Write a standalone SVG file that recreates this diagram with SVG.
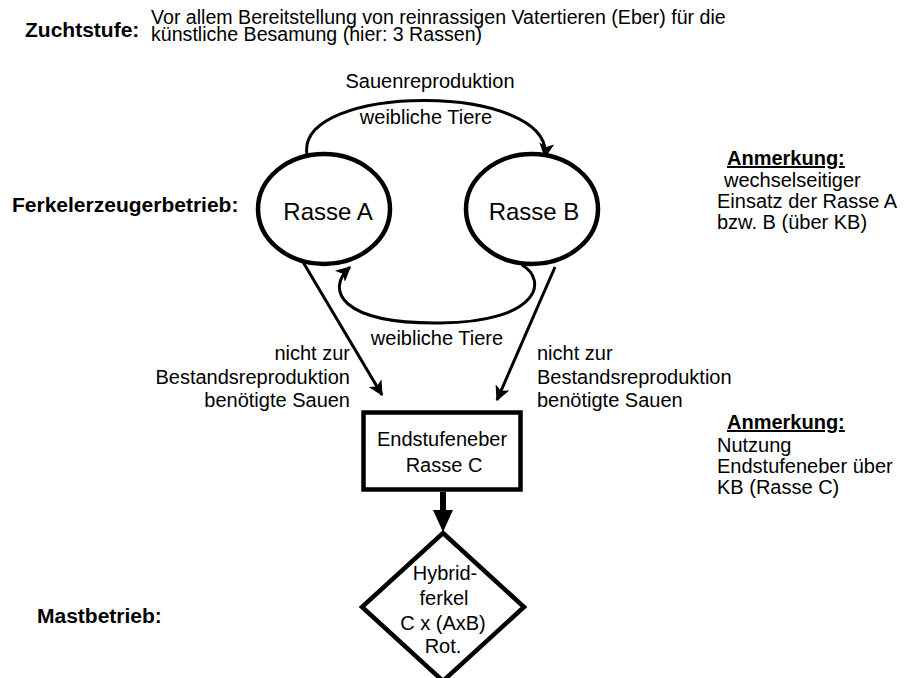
<svg xmlns="http://www.w3.org/2000/svg" width="915" height="678" viewBox="0 0 915 678">
  <style>
    text { font-family: "Liberation Sans", Arial, sans-serif; fill: #000; }
    .stage { font-size: 21px; font-weight: bold; }
    .hdr { font-size: 19.6px; }
    .t { font-size: 20px; }
    .big { font-size: 24px; }
    .note { font-size: 20px; font-weight: bold; text-decoration: underline; }
    .node { fill: #fff; stroke: #000; stroke-width: 4.5; }
    .flow { fill: none; stroke: #000; stroke-width: 3; }
  </style>
  <defs>
    <marker id="head" viewBox="0 0 12 12" refX="11" refY="6" markerWidth="5" markerHeight="5" orient="auto" markerUnits="strokeWidth">
      <path d="M0,0 L12,6 L0,12 L3,6 Z" fill="#000"/>
    </marker>
  </defs>

  <!-- stage labels -->
  <g id="stage-labels">
    <text class="stage" x="25" y="37">Zuchtstufe:</text>
    <text class="stage" x="12" y="212">Ferkelerzeugerbetrieb:</text>
    <text class="stage" x="37" y="623">Mastbetrieb:</text>
  </g>

  <g id="header">
    <text class="hdr" x="151" y="24">Vor allem Bereitstellung von reinrassigen Vatertieren (Eber) für die</text>
    <text class="hdr" x="151" y="41">künstliche Besamung (hier: 3 Rassen)</text>
  </g>

  <!-- connectors -->
  <g id="connectors">
    <path class="flow" d="M307,155 C295,82 555,82 545,157" marker-end="url(#head)"/>
    <path class="flow" d="M522,265 C548,280 540,322 440,323 C340,324 325,290 350,267" marker-end="url(#head)"/>
    <path class="flow" d="M303,262 L382,395" marker-end="url(#head)"/>
    <path class="flow" d="M555,267 L497,400" marker-end="url(#head)"/>
    <line x1="443" y1="492" x2="443" y2="512" stroke="#000" stroke-width="6"/>
    <path d="M433,510 L453,510 L443,532 Z" fill="#000"/>
  </g>

  <g id="connector-labels">
    <text class="t" x="430" y="88" text-anchor="middle">Sauenreproduktion</text>
    <text class="t" x="426" y="124" text-anchor="middle">weibliche Tiere</text>
    <text class="t" x="437" y="345" text-anchor="middle">weibliche Tiere</text>
    <g text-anchor="end">
      <text class="t" x="350" y="360">nicht zur</text>
      <text class="t" x="350" y="384">Bestandsreproduktion</text>
      <text class="t" x="350" y="407">benötigte Sauen</text>
    </g>
    <text class="t" x="537" y="360">nicht zur</text>
    <text class="t" x="537" y="384">Bestandsreproduktion</text>
    <text class="t" x="537" y="407">benötigte Sauen</text>
  </g>

  <g id="rasse-a">
    <ellipse class="node" cx="324" cy="209" rx="66" ry="55"/>
    <text class="big" x="328" y="220" text-anchor="middle">Rasse A</text>
  </g>

  <g id="rasse-b">
    <ellipse class="node" cx="532" cy="209" rx="66" ry="55"/>
    <text class="big" x="534" y="220" text-anchor="middle">Rasse B</text>
  </g>

  <g id="endstufeneber">
    <rect class="node" x="363.5" y="412.5" width="157" height="77"/>
    <text class="t" x="442" y="446" text-anchor="middle">Endstufeneber</text>
    <text class="t" x="444" y="472" text-anchor="middle">Rasse C</text>
  </g>

  <g id="hybridferkel">
    <path class="node" d="M443,533 L524,607 L443,681 L362,607 Z"/>
    <text class="t" x="445" y="580" text-anchor="middle">Hybrid-</text>
    <text class="t" x="444" y="605" text-anchor="middle">ferkel</text>
    <text class="t" x="443" y="630" text-anchor="middle">C x (AxB)</text>
    <text class="t" x="443" y="653" text-anchor="middle">Rot.</text>
  </g>

  <g id="note-rotation">
    <text class="note" x="727" y="165">Anmerkung:</text>
    <text class="t" x="724" y="187">wechselseitiger</text>
    <text class="t" x="717" y="208">Einsatz der Rasse A</text>
    <text class="t" x="717" y="229">bzw. B (über KB)</text>
  </g>

  <g id="note-endstufe">
    <text class="note" x="727" y="429">Anmerkung:</text>
    <text class="t" x="717" y="452">Nutzung</text>
    <text class="t" x="717" y="473">Endstufeneber über</text>
    <text class="t" x="717" y="494">KB (Rasse C)</text>
  </g>
</svg>
